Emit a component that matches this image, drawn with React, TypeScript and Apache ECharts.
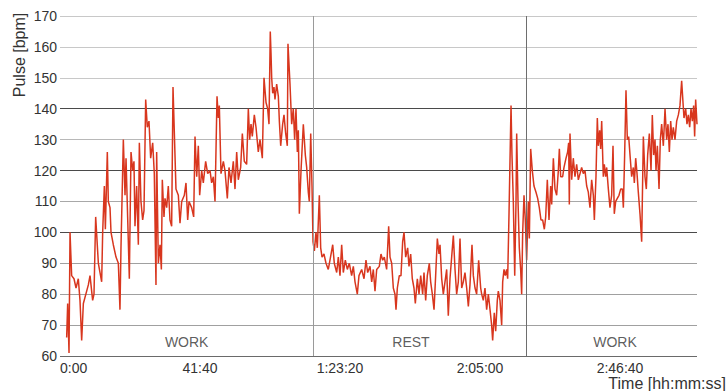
import React, { useEffect, useRef } from "react";
import * as echarts from "echarts";

// elapsed time in seconds
const times = [
  119, 137, 161, 179, 208, 250, 286, 327, 357, 387, 417, 506, 536, 583, 607, 637, 685, 744, 762, 792,
  810, 845, 863, 893, 911, 952, 1000, 1042, 1071, 1089, 1131, 1161, 1179, 1208, 1238, 1268, 1298, 1321, 1339, 1369,
  1399, 1417, 1446, 1476, 1500, 1530, 1559, 1589, 1619, 1655, 1684, 1714, 1726, 1756, 1786, 1810, 1827, 1857, 1875, 1905,
  1934, 1964, 1994, 2018, 2071, 2113, 2143, 2173, 2220, 2250, 2280, 2304, 2351, 2387, 2411, 2441, 2470, 2494, 2530, 2559,
  2601, 2637, 2679, 2708, 2738, 2768, 2804, 2827, 2845, 2875, 2917, 2946, 2988, 3018, 3054, 3095, 3125, 3155, 3184, 3226,
  3256, 3291, 3333, 3363, 3387, 3411, 3434, 3470, 3500, 3541, 3571, 3613, 3643, 3679, 3708, 3732, 3755, 3768, 3780, 3798,
  3821, 3839, 3869, 3899, 3917, 3941, 3976, 4000, 4030, 4059, 4071, 4107, 4137, 4166, 4190, 4214, 4238, 4256, 4274, 4304,
  4345, 4381, 4405, 4434, 4452, 4477, 4500, 4518, 4542, 4571, 4595, 4631, 4655, 4679, 4714, 4750, 4791, 4821, 4870, 4898,
  4941, 4970, 5000, 5030, 5059, 5095, 5131, 5166, 5208, 5238, 5268, 5309, 5339, 5387, 5429, 5464, 5494, 5536, 5566, 5595,
  5625, 5655, 5702, 5732, 5762, 5791, 5833, 5869, 5893, 5923, 5952, 5982, 6000, 6024, 6059, 6089, 6119, 6143, 6173, 6208,
  6232, 6262, 6291, 6321, 6345, 6381, 6411, 6441, 6476, 6500, 6530, 6559, 6595, 6619, 6649, 6679, 6708, 6738, 6768, 6786,
  6816, 6845, 6875, 6905, 6934, 6964, 6994, 7024, 7054, 7083, 7113, 7143, 7173, 7202, 7232, 7262, 7292, 7321, 7357, 7381,
  7411, 7440, 7476, 7512, 7530, 7559, 7589, 7619, 7649, 7679, 7708, 7726, 7755, 7780, 7809, 7827, 7857, 7887, 7905, 7929,
  7952, 7976, 7994, 8018, 8054, 8071, 8095, 8120, 8143, 8155, 8179, 8202, 8226, 8244, 8262, 8286, 8309, 8333, 8363, 8381,
  8405, 8434, 8464, 8500, 8530, 8559, 8589, 8619, 8649, 8673, 8702, 8732, 8762, 8780, 8810, 8839, 8869, 8899, 8917, 8941,
  8976, 9000, 9036, 9065, 9083, 9095, 9107, 9137, 9166, 9196, 9226, 9256, 9286, 9315, 9345, 9375, 9405, 9434, 9464, 9494,
  9524, 9542, 9571, 9595, 9613, 9637, 9655, 9673, 9702, 9720, 9744, 9762, 9792, 9821, 9851, 9875, 9898, 9923, 9952, 9982,
  10012, 10042, 10060, 10083, 10107, 10131, 10155, 10179, 10208, 10238, 10256, 10280, 10304, 10327, 10357, 10387, 10417, 10446, 10470, 10494,
  10524, 10554, 10577, 10601, 10625, 10643, 10667, 10697, 10720, 10744, 10774, 10804, 10833, 10857, 10881, 10905, 10929, 10952, 10982, 11012,
  11042, 11071, 11101, 11125, 11143, 11173, 11196, 11220, 11244, 11268, 11292, 11315, 11333, 11351, 11375,
];

// pulse in bpm
const pulse = [
  66, 77, 61, 100, 86, 85, 82, 85, 78, 65, 77, 83, 86, 78, 80, 105, 90, 84, 100, 115,
  101, 126, 110, 108, 100, 96, 92, 90, 75, 95, 130, 112, 124, 105, 85, 126, 120, 123, 102, 115,
  96, 129, 110, 104, 107, 143, 134, 136, 124, 129, 119, 83, 126, 90, 96, 88, 117, 105, 111, 108,
  115, 104, 102, 147, 114, 112, 103, 110, 112, 116, 104, 110, 108, 105, 131, 118, 128, 112, 120, 116,
  123, 119, 120, 116, 118, 110, 144, 137, 141, 119, 123, 120, 111, 121, 116, 123, 114, 126, 117, 121,
  132, 123, 122, 140, 130, 135, 131, 138, 134, 126, 130, 124, 150, 142, 140, 135, 165, 158, 150, 145,
  147, 143, 148, 144, 136, 128, 135, 138, 132, 128, 161, 148, 135, 140, 130, 140, 126, 133, 106, 120,
  135, 125, 121, 113, 110, 132, 115, 97, 94, 100, 95, 112, 95, 92, 93, 90, 88, 91, 96, 90,
  87, 92, 86, 96, 87, 91, 88, 90, 86, 89, 84, 80, 86, 88, 85, 91, 87, 89, 84, 88,
  81, 88, 89, 93, 91, 92, 88, 102, 92, 90, 82, 80, 75, 82, 86, 86, 97, 100, 92, 95,
  89, 93, 85, 82, 77, 85, 80, 86, 80, 87, 78, 86, 90, 84, 80, 75, 86, 98, 93, 96,
  85, 80, 84, 88, 73, 85, 92, 99, 88, 80, 84, 98, 82, 84, 87, 82, 76, 83, 96, 86,
  82, 80, 91, 82, 80, 78, 82, 75, 80, 75, 70, 65, 74, 68, 78, 81, 78, 70, 84, 88,
  86, 88, 85, 106, 141, 125, 110, 86, 110, 132, 110, 95, 88, 80, 100, 112, 104, 91, 110, 98,
  127, 120, 115, 113, 111, 108, 104, 104, 101, 105, 117, 104, 115, 109, 124, 114, 112, 120, 127, 118,
  118, 121, 124, 126, 129, 109, 132, 117, 124, 118, 122, 117, 119, 121, 119, 120, 115, 113, 108, 117,
  112, 104, 118, 137, 128, 133, 127, 136, 118, 122, 118, 121, 114, 108, 112, 128, 106, 110, 111, 112,
  114, 114, 108, 125, 146, 130, 131, 125, 118, 121, 116, 124, 119, 113, 106, 97, 131, 118, 114, 125,
  132, 120, 138, 125, 130, 120, 128, 114, 130, 135, 128, 140, 130, 135, 126, 136, 130, 134, 130, 136,
  138, 141, 149, 142, 137, 140, 135, 138, 134, 140, 136, 141, 131, 143, 135,
];

const phaseBounds = [4523, 8321];
const phaseLabels = ["WORK", "REST", "WORK"];
const phaseLabelTimes = [2262, 6268, 9911];

const yTicks = [60, 70, 80, 90, 100, 110, 120, 130, 140, 150, 160, 170];
const gridColors = [
  "#6a6a6a", "#a0a0a0", "#a0a0a0", "#a0a0a0", "#4a4a4a", "#a8a8a8",
  "#4a4a4a", "#b8b8b8", "#4a4a4a", "#c8c8c8", "#c8c8c8", "#c8c8c8",
];

const FONT = '"Liberation Sans", Arial, Helvetica, sans-serif';

function fmtTime(s: number): string {
  const h = Math.floor(s / 3600);
  const m = Math.floor((s % 3600) / 60);
  const sec = Math.round(s % 60);
  const ss = String(sec).padStart(2, "0");
  if (h === 0) return `${m}:${ss}`;
  return `${h}:${String(m).padStart(2, "0")}:${ss}`;
}

export default function App() {
  const ref = useRef<HTMLDivElement>(null);

  useEffect(() => {
    document.body.style.margin = "0";
    if (!ref.current) return;
    const chart = echarts.init(ref.current, undefined, { renderer: "svg" });
    const data = times.map((t, i) => [t, pulse[i]]);
    const labelData = phaseLabels.map((name, i) => [phaseLabelTimes[i], 64.4, name]);

    chart.setOption({
      animation: false,
      backgroundColor: "#ffffff",
      grid: { left: 60, right: 31, top: 16, bottom: 35 },
      xAxis: {
        type: "value",
        min: 0,
        max: 11375,
        interval: 2500,
        axisLine: { show: false },
        axisTick: { show: false },
        splitLine: { show: false },
        axisLabel: {
          formatter: (v: number) => fmtTime(v),
          color: "#333",
          fontSize: 14,
          fontFamily: FONT,
          margin: 5,
          showMaxLabel: false,
          alignMinLabel: "left",
        },
      },
      yAxis: {
        type: "value",
        min: yTicks[0],
        max: yTicks[yTicks.length - 1],
        interval: 10,
        axisLine: { show: false },
        axisTick: { show: false },
        axisLabel: {
          color: "#333",
          fontSize: 14,
          fontFamily: FONT,
          margin: 3,
        },
        splitLine: {
          show: true,
          lineStyle: { color: gridColors, width: 1.2 },
        },
      },
      series: [
        {
          type: "line",
          data,
          symbol: "none",
          lineStyle: { color: "#d8361e", width: 1.5 },
          z: 3,
          markLine: {
            silent: true,
            symbol: ["none", "none"],
            label: { show: false },
            data: [
              { xAxis: phaseBounds[0], lineStyle: { color: "#9a9a9a", width: 1, type: "solid" } },
              { xAxis: phaseBounds[1], lineStyle: { color: "#6e6e6e", width: 1, type: "solid" } },
            ],
          },
        },
        {
          type: "scatter",
          data: labelData,
          symbolSize: 0,
          silent: true,
          label: {
            show: true,
            position: "inside",
            formatter: (p: any) => p.data[2],
            color: "#333",
            fontSize: 14,
            fontFamily: FONT,
          },
        },
      ],
      graphic: [
        {
          type: "text",
          x: 19,
          y: 55,
          rotation: Math.PI / 2,
          style: {
            text: "Pulse [bpm]",
            fill: "#333",
            font: `16px ${FONT}`,
            textAlign: "center",
            textVerticalAlign: "middle",
          },
        },
        {
          type: "text",
          x: 726,
          y: 383,
          style: {
            text: "Time [hh:mm:ss]",
            fill: "#333",
            font: `16px ${FONT}`,
            textAlign: "right",
            textVerticalAlign: "middle",
          },
        },
      ],
    });

    return () => chart.dispose();
  }, []);

  return <div ref={ref} style={{ width: 728, height: 391 }} />;
}
